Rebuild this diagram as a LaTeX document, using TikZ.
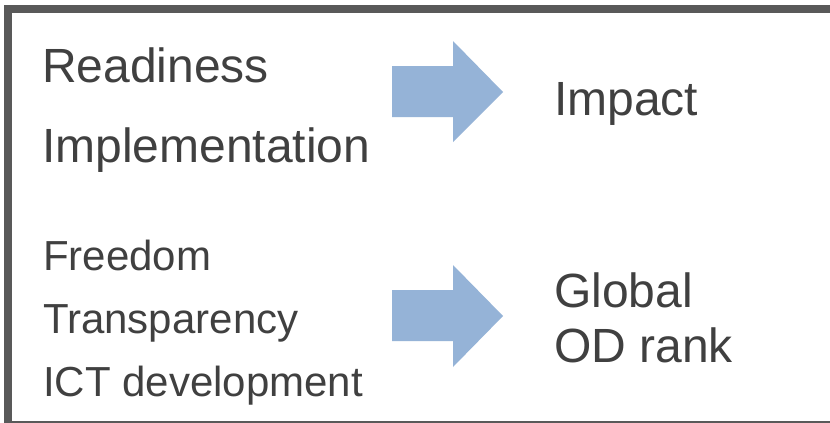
\documentclass[tikz,border=0pt]{standalone}
\usepackage{fontspec}
\setmainfont{Liberation Sans}
\definecolor{txtgray}{HTML}{404040}
\definecolor{framegray}{HTML}{595959}
\definecolor{arrowblue}{HTML}{95B3D7}
\begin{document}
\begin{tikzpicture}[x=1pt,y=-1pt,
  bigtxt/.style={inner sep=0pt,anchor=base west,text=txtgray,font=\fontsize{48}{56}\selectfont},
  smalltxt/.style={inner sep=0pt,anchor=base west,text=txtgray,font=\fontsize{42}{50}\selectfont},
  blockarrow/.style={fill=arrowblue,draw=none}]
\useasboundingbox (0,0) rectangle (830,423);
\fill[white] (0,0) rectangle (830,423);
\begin{scope}
\clip (0,0) rectangle (830,423);
\draw[framegray,line width=8pt] (8,9) rectangle (836,425);
\end{scope}
% arrows
\fill[blockarrow] (392,66) -- (453,66) -- (453,41) -- (503,92) -- (453,142) -- (453,117) -- (392,117) -- cycle;
\fill[blockarrow] (392,290) -- (453,290) -- (453,265) -- (503,316) -- (453,367) -- (453,341) -- (392,341) -- cycle;
% texts
\node[bigtxt] (ready) at (42,82) {Readiness};
\node[bigtxt] (impl) at (42,162) {Implementation};
\node[bigtxt] (impact) at (554,115) {Impact};
\node[smalltxt] (free) at (43,270) {Freedom};
\node[smalltxt] (transp) at (43,333) {Transparency};
\node[smalltxt] (ict) at (43,396) {ICT development};
\node[bigtxt] (global) at (554,307) {Global};
\node[bigtxt] (odrank) at (554,362) {OD rank};
\end{tikzpicture}
\end{document}
